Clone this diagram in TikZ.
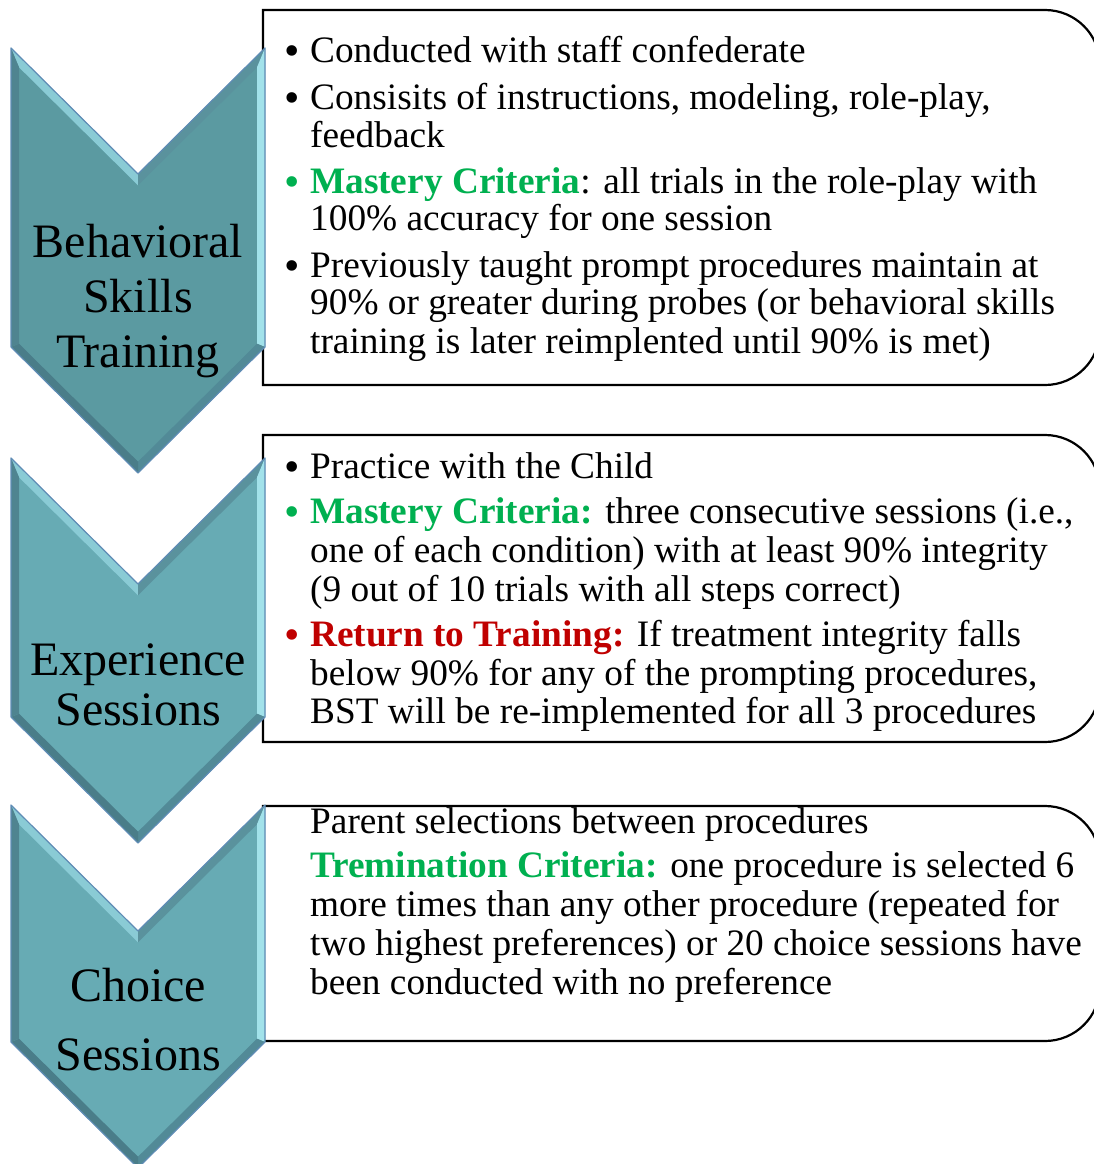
\documentclass[tikz,border=0pt]{standalone}
\usepackage{fontspec}
\setmainfont{Liberation Serif}
\usetikzlibrary{calc}

\definecolor{chevA}{HTML}{5B9AA1}
\definecolor{chevB}{HTML}{67ABB4}
\definecolor{bevLight}{HTML}{8ACBD5}
\definecolor{bevRight}{HTML}{A2E2EA}
\definecolor{bevTopR}{HTML}{5A929D}
\definecolor{bevBotR}{HTML}{528A97}
\definecolor{bevBotL}{HTML}{4A7D89}
\definecolor{bevLeft}{HTML}{4F8490}
\definecolor{chevEdge}{HTML}{5F8CB5}
\definecolor{okGreen}{HTML}{00B050}
\definecolor{warnRed}{HTML}{C00000}

\newcommand{\bodyfont}{\fontsize{37.3}{38}\selectfont}
\newcommand{\dotfont}{\fontsize{44}{38}\selectfont}
\newcommand{\labelfont}{\fontsize{48}{52}\selectfont}

% Bevelled chevron: #1 top of sides, #2 bottom of sides, #3 fill colour
\newcommand{\bevchevron}[3]{%
  \coordinate (P1) at (11,#1);
  \coordinate (P2) at (138,{#1+126});
  \coordinate (P3) at (265,#1);
  \coordinate (P4) at (265,#2);
  \coordinate (P5) at (138,{#2+126});
  \coordinate (P6) at (11,#2);
  \coordinate (I1) at (19,{#1+19.3});
  \coordinate (I2) at (138,{#1+137.3});
  \coordinate (I3) at (257,{#1+19.3});
  \coordinate (I4) at (257,{#2-3.3});
  \coordinate (I5) at (138,{#2+114.7});
  \coordinate (I6) at (19,{#2-3.3});
  \fill[#3] (P1)--(P2)--(P3)--(P4)--(P5)--(P6)--cycle;
  \fill[bevLight] (P1)--(P2)--(I2)--(I1)--cycle;
  \fill[bevTopR] (P2)--(P3)--(I3)--(I2)--cycle;
  \fill[bevRight] (P3)--(P4)--(I4)--(I3)--cycle;
  \fill[bevBotR] (P4)--(P5)--(I5)--(I4)--cycle;
  \fill[bevBotL] (P5)--(P6)--(I6)--(I5)--cycle;
  \fill[bevLeft] (P6)--(P1)--(I1)--(I6)--cycle;
  \draw[chevEdge, line width=1.2pt, line join=round] (P1)--(P2)--(P3)--(P4)--(P5)--(P6)--cycle;
}

% Text box with square left corners and rounded right corners (y axis points down)
\newcommand{\sidebox}[2]{%
  \draw[black, line width=2.2pt, fill=white]
    (263,#1) -- (1045,#1) arc[start angle=-90, end angle=0, radius=55]
    -- (1100,{#2-55}) arc[start angle=0, end angle=90, radius=55] -- (263,#2) -- cycle;
}

\tikzset{
  ln/.style={anchor=base west, inner sep=0pt, font=\bodyfont},
  bul/.style={anchor=base, inner sep=0pt, font=\dotfont, yshift=-3pt},
  lab/.style={anchor=base, inner sep=0pt, font=\labelfont},
}

\begin{document}
\begin{tikzpicture}[x=1pt, y=-1pt]
\useasboundingbox (0,0) rectangle (1094,1164);

% boxes first, chevrons on top of their left edges
\sidebox{10}{385}
\sidebox{435}{742}
\sidebox{806}{1041}

\bevchevron{48}{347}{chevA}
\bevchevron{458}{717}{chevB}
\bevchevron{805}{1042}{chevB}

% chevron labels
\node[lab] (bst1) at (138,257) {Behavioral};
\node[lab] (bst2) at (138,312) {Skills};
\node[lab] (bst3) at (138,367) {Training};
\node[lab] (exp1) at (138,675) {Experience};
\node[lab] (exp2) at (138,725) {Sessions};
\node[lab] (cho1) at (138,1001) {Choice};
\node[lab] (cho2) at (138,1070) {Sessions};

% Behavioral Skills Training
\node[bul] (ab1) at (292,63) {•};
\node[ln] (a1) at (310,63) {Conducted with staff confederate};
\node[bul] (ab2) at (292,109) {•};
\node[ln] (a2) at (310,109) {Consisits of instructions, modeling, role-play,};
\node[ln] (a3) at (310,147) {feedback};
\node[bul, text=okGreen] (ab3) at (292,193) {•};
\node[ln] (a4) at (310,193) {\textcolor{okGreen}{\bfseries Mastery Criteria}: all trials in the role-play with};
\node[ln] (a5) at (310,230) {100\% accuracy for one session};
\node[bul] (ab4) at (292,277) {•};
\node[ln] (a6) at (310,277) {Previously taught prompt procedures maintain at};
\node[ln] (a7) at (310,314) {90\% or greater during probes (or behavioral skills};
\node[ln] (a8) at (310,353) {training is later reimplented until 90\% is met)};

% Experience Sessions
\node[bul] (bb1) at (292,478) {•};
\node[ln] (b1) at (310,478) {Practice with the Child};
\node[bul, text=okGreen] (bb2) at (292,523) {•};
\node[ln] (b2) at (310,523) {\textcolor{okGreen}{\bfseries Mastery Criteria:} three consecutive sessions (i.e.,};
\node[ln] (b3) at (310,562) {one of each condition) with at least 90\% integrity};
\node[ln] (b4) at (310,601) {(9 out of 10 trials with all steps correct)};
\node[bul, text=warnRed] (bb3) at (292,646) {•};
\node[ln] (b5) at (310,646) {\textcolor{warnRed}{\bfseries Return to Training:} If treatment integrity falls};
\node[ln] (b6) at (310,685) {below 90\% for any of the prompting procedures,};
\node[ln] (b7) at (310,723) {BST will be re-implemented for all 3 procedures};

% Choice Sessions
\node[ln] (c1) at (310,833) {Parent selections between procedures};
\node[ln] (c2) at (310,877) {\textcolor{okGreen}{\bfseries Tremination Criteria:} one procedure is selected 6};
\node[ln] (c3) at (310,916) {more times than any other procedure (repeated for};
\node[ln] (c4) at (310,955) {two highest preferences) or 20 choice sessions have};
\node[ln] (c5) at (310,994) {been conducted with no preference};
\end{tikzpicture}
\end{document}
